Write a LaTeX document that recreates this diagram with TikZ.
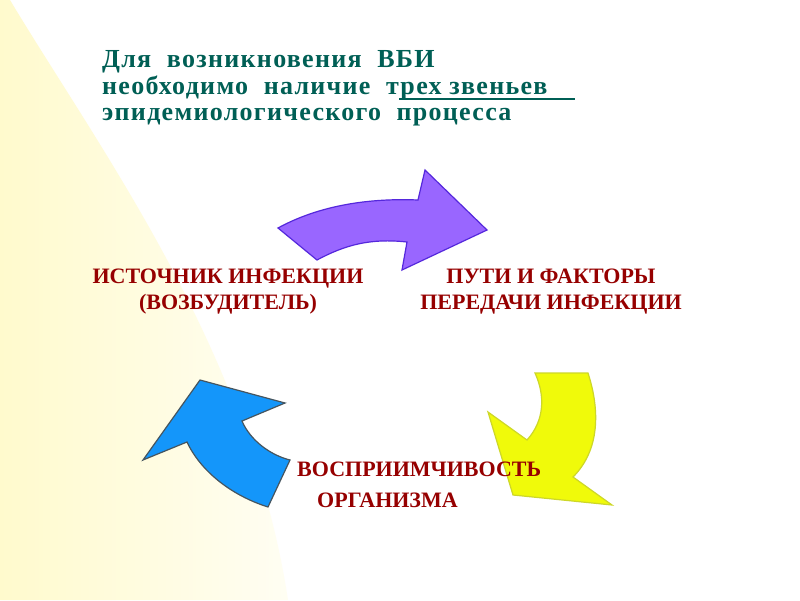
\documentclass[tikz,border=0pt]{standalone}
\usepackage{fontspec}
\setmainfont{Liberation Serif}
\newfontfamily\ttlfont[LetterSpace=5]{Liberation Serif}
\begin{document}
\begin{tikzpicture}[x=1pt,y=-1pt,
  ttl/.style={anchor=base west,text=teal0,font=\ttlfont\fontsize{26}{28}\selectfont\bfseries,inner sep=0},
  lbl/.style={text=red0,font=\fontsize{22}{26}\selectfont\bfseries,align=center,inner sep=0},
  arr/.style={line width=1.2pt,line join=miter}]
\definecolor{teal0}{RGB}{0,95,85}
\definecolor{red0}{RGB}{150,0,0}
\definecolor{bgy}{RGB}{255,250,205}
\useasboundingbox (0,0) rectangle (800,600);
\fill[white] (0,0) rectangle (800,600);
\shade[left color=bgy, right color=white!75!bgy] (0,0) -- (10,0) .. controls (100,150) and (250,350) .. (288,600) -- (0,600) -- cycle;
\node[ttl] (t1) at (102,67) {Для\ \ возникновения\ \ ВБИ};
\node[ttl] (t2) at (102,94) {необходимо\ \ наличие\ \ трех звеньев};
\draw[teal0,line width=1.2pt] (399,99) -- (575,99);
\node[ttl] (t3) at (102,120) {эпидемиологического\ \ процесса};
\filldraw[arr,fill={rgb,255:red,153;green,102;blue,255},draw={rgb,255:red,85;green,40;blue,220}]
 (278,228) .. controls (320,205) and (370,198) .. (418,200) -- (425,170) -- (487,230) -- (402,270) -- (407,242)
 .. controls (370,238) and (345,245) .. (317,260) -- cycle;
\filldraw[arr,fill={rgb,255:red,240;green,250;blue,10},draw={rgb,255:red,205;green,215;blue,40}]
 (535,373) -- (588,373) .. controls (600,410) and (600,450) .. (573,477) -- (612,505) -- (513,495) -- (488,412) -- (527,440)
 .. controls (545,420) and (545,395) .. cycle;
\filldraw[arr,fill={rgb,255:red,20;green,150;blue,250},draw={rgb,255:red,70;green,85;blue,95}]
 (143,460) -- (200,380) -- (285,403) -- (242,421) .. controls (250,440) and (270,455) .. (290,460) -- (268,507)
 .. controls (230,495) and (200,470) .. (187,442) -- cycle;
\node[lbl] (a) at (228,292) {ИСТОЧНИК ИНФЕКЦИИ\\(ВОЗБУДИТЕЛЬ)};
\node[lbl] (b) at (551,292) {ПУТИ И ФАКТОРЫ\\ПЕРЕДАЧИ ИНФЕКЦИИ};
\node[lbl,anchor=west] (c) at (297,469) {ВОСПРИИМЧИВОСТЬ};
\node[lbl,anchor=west] (d) at (317,500) {ОРГАНИЗМА};
\end{tikzpicture}
\end{document}
